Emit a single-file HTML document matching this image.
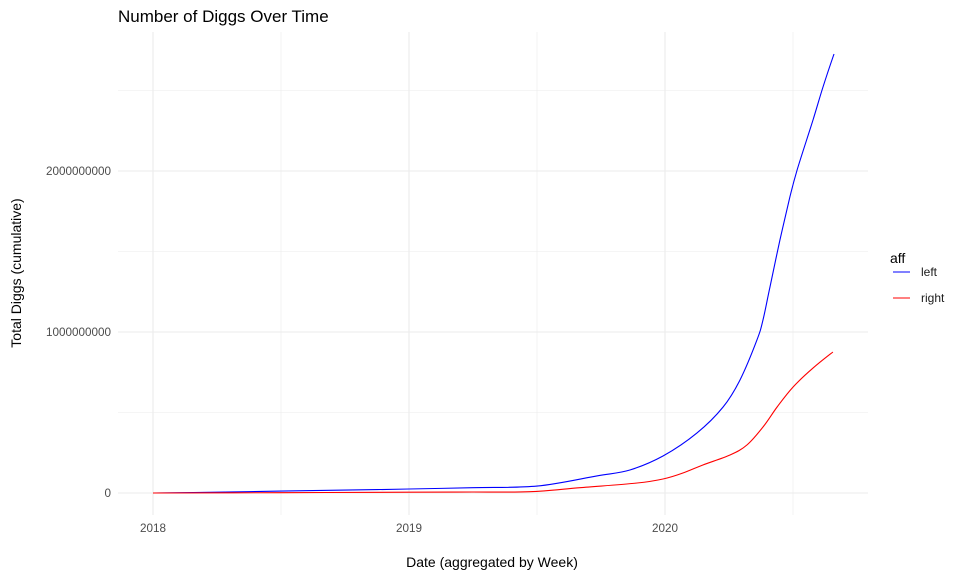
<!DOCTYPE html>
<html><head><meta charset="utf-8"><style>
body{margin:0;background:#fff;}
svg{font-family:"Liberation Sans",Arial,sans-serif;}
</style></head><body>
<svg id="chart" width="960" height="576" xmlns="http://www.w3.org/2000/svg">
<rect width="960" height="576" fill="#fff"/>
<text x="118" y="22" font-size="17" fill="#000">Number of Diggs Over Time</text>
<g id="grid"></g>
<g id="series"></g>
<g id="axes"></g>
<text x="492" y="567" font-size="14" text-anchor="middle" fill="#000">Date (aggregated by Week)</text>
<text transform="translate(21,273) rotate(-90)" font-size="14" text-anchor="middle" fill="#000">Total Diggs (cumulative)</text>
<g>
<text x="890" y="263" font-size="14" fill="#000">aff</text>
<g><line x1="893" x2="910" y1="272" y2="272" stroke="#0000ff" stroke-width="1.1"/><text x="921" y="276" font-size="12" fill="#1a1a1a">left</text></g>
<g><line x1="893" x2="910" y1="298" y2="298" stroke="#ff0000" stroke-width="1.1"/><text x="921" y="302" font-size="12" fill="#1a1a1a">right</text></g>
</g>
</svg>
<script>
const xTickYears=[2018,2019,2020];
const xTickLabels=["2018","2019","2020"];
const yTicks=[0,1000000000,2000000000];
const yTickLabels=["0","1000000000","2000000000"];
const leftYears=[2018.0,2018.25,2018.5,2018.75,2019.0,2019.25,2019.5,2019.734,2019.863,2019.992,2020.125,2020.227,2020.293,2020.359,2020.383,2020.41,2020.449,2020.488,2020.516,2020.578,2020.617,2020.66];
const leftValues=[0,5e6,12e6,18e6,25e6,33e6,43e6,106e6,143e6,230e6,373e6,534e6,702e6,950e6,1075e6,1280e6,1571e6,1839e6,2006e6,2317e6,2522e6,2727e6];
const rightYears=[2018.0,2018.5,2019.0,2019.25,2019.473,2019.668,2019.891,2019.992,2020.07,2020.148,2020.254,2020.32,2020.383,2020.438,2020.5,2020.578,2020.656];
const rightValues=[0,2e6,5e6,6e6,8e6,33e6,62e6,87e6,124e6,174e6,236e6,298e6,410e6,534e6,658e6,776e6,876e6];
const ns="http://www.w3.org/2000/svg";
const X=y=>153+(y-2018)*256;
const Y=v=>493-v*161e-9;
const L=118,R=868,T=32,B=515;
const grid=document.getElementById('grid'),axes=document.getElementById('axes'),series=document.getElementById('series');
function mk(tag,at,parent){const e=document.createElementNS(ns,tag);for(const k in at)e.setAttribute(k,at[k]);parent.appendChild(e);return e;}
for(let i=0;i<=5;i++){const v=i*5e8;const g=mk('line',{x1:L,x2:R,y1:Y(v),y2:Y(v),stroke:'#ebebeb','stroke-width':i%2?0.6:1.1},grid);

}
for(let i=0;i<=5;i++){const yr=2018+i*0.5;const g=mk('line',{x1:X(yr),x2:X(yr),y1:T,y2:B,stroke:'#ebebeb','stroke-width':i%2?0.6:1.1},grid);

}
yTicks.forEach((v,i)=>{const t=mk('text',{x:111,y:Y(v)+4,'font-size':11.7,'text-anchor':'end',fill:'#4d4d4d'},axes);t.textContent=yTickLabels[i];

});
xTickYears.forEach((yr,i)=>{const t=mk('text',{x:X(yr),y:532,'font-size':11.7,'text-anchor':'middle',fill:'#4d4d4d'},axes);t.textContent=xTickLabels[i];

});
function line(xs,vs,color,name){
const P=xs.map((x,i)=>[X(x),Y(vs[i])]);
let d='M'+P[0][0].toFixed(1)+','+P[0][1].toFixed(1);
for(let i=0;i<P.length-1;i++){const p0=P[Math.max(0,i-1)],p1=P[i],p2=P[i+1],p3=P[Math.min(P.length-1,i+2)];
const c1=[p1[0]+(p2[0]-p0[0])/6,p1[1]+(p2[1]-p0[1])/6],c2=[p2[0]-(p3[0]-p1[0])/6,p2[1]-(p3[1]-p1[1])/6];
d+=' C'+c1.map(n=>n.toFixed(1)).join(',')+' '+c2.map(n=>n.toFixed(1)).join(',')+' '+p2.map(n=>n.toFixed(1)).join(',');}
const p=mk('path',{d:d,fill:'none',stroke:color,'stroke-width':1.1},series);

}
line(leftYears,leftValues,'#0000ff','series-left');
line(rightYears,rightValues,'#ff0000','series-right');
</script>
</body></html>
